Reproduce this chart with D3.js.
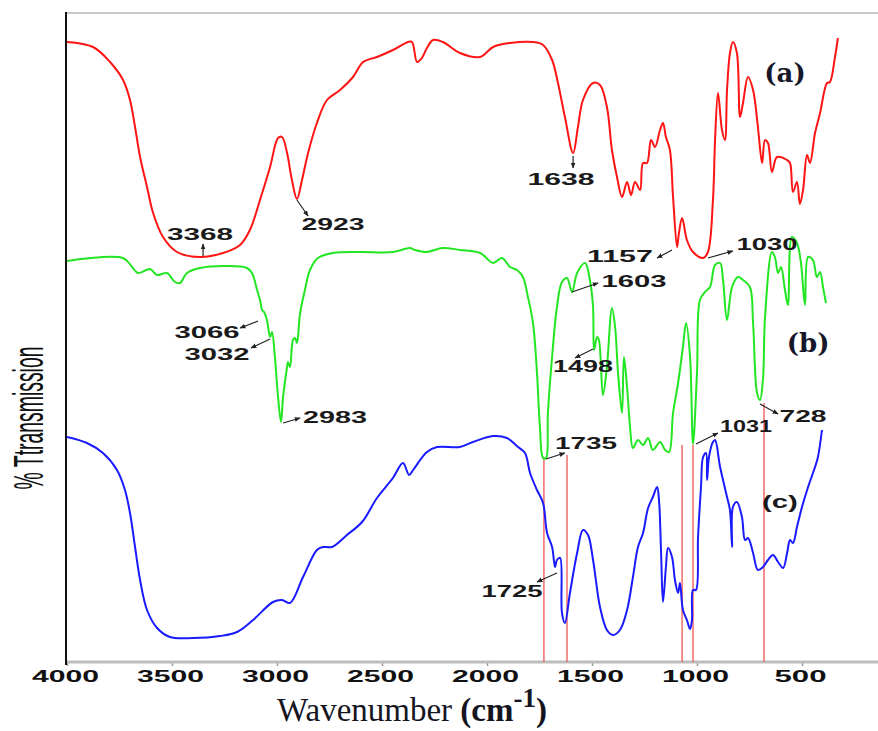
<!DOCTYPE html>
<html>
<head>
<meta charset="utf-8">
<script src="https://cdn.jsdelivr.net/npm/d3@7"></script>
<style>
  body { margin: 0; background: #fff; }
  svg { display: block; }
</style>
</head>
<body>
<div class="chart"></div>
<script>
// spectrum (a) - red
const wnA = [4000, 3876, 3795, 3733, 3700, 3676, 3652, 3619, 3590, 3543, 3476, 3367, 3257, 3176, 3129, 3081, 3033, 2995, 2976, 2952, 2929, 2905, 2881, 2852, 2810, 2762, 2700, 2638, 2590, 2524, 2448, 2376, 2357, 2333, 2310, 2286, 2257, 2210, 2129, 2033, 1971, 1890, 1781, 1733, 1690, 1662, 1629, 1590, 1567, 1543, 1495, 1462, 1429, 1405, 1381, 1357, 1333, 1314, 1295, 1271, 1257, 1238, 1219, 1200, 1176, 1162, 1148, 1129, 1114, 1095, 1086, 1071, 1048, 1019, 971, 948, 924, 914, 900, 881, 867, 857, 843, 829, 810, 795, 781, 757, 733, 710, 690, 676, 662, 643, 619, 571, 557, 543, 524, 510, 495, 476, 462, 438, 414, 381, 367, 343, 329];
const tA = [62.0, 61.5, 60.0, 58.2, 56.2, 53.5, 50.5, 47.5, 44.9, 42.5, 41.0, 40.5, 40.9, 41.7, 43.2, 46.2, 49.5, 52.4, 52.5, 50.9, 48.2, 46.3, 48.2, 50.9, 53.9, 56.2, 57.2, 58.5, 60.0, 60.5, 61.2, 62.0, 62.0, 60.0, 60.4, 61.4, 62.2, 62.0, 60.9, 60.5, 61.5, 61.9, 62.0, 61.7, 60.2, 57.9, 54.5, 50.9, 53.5, 56.2, 57.9, 57.7, 55.5, 51.2, 48.5, 46.5, 48.0, 46.7, 48.0, 47.2, 49.9, 49.9, 52.2, 51.5, 53.2, 53.9, 52.5, 51.2, 46.5, 41.5, 42.9, 44.4, 42.2, 41.0, 40.4, 41.0, 46.2, 52.2, 56.9, 53.2, 52.2, 57.2, 60.9, 62.0, 60.9, 54.5, 55.9, 58.5, 57.2, 53.5, 49.9, 52.2, 51.9, 49.0, 50.5, 50.2, 49.9, 47.0, 48.0, 45.8, 47.2, 50.7, 49.9, 52.9, 54.9, 57.9, 58.0, 60.5, 62.4];

// spectrum (b) - green
const wnB = [4000, 3733, 3690, 3662, 3605, 3571, 3524, 3486, 3462, 3429, 3367, 3238, 3143, 3119, 3095, 3081, 3071, 3062, 3048, 3033, 3024, 3010, 2995, 2981, 2971, 2952, 2948, 2938, 2924, 2914, 2905, 2890, 2867, 2843, 2805, 2733, 2605, 2448, 2367, 2343, 2286, 2210, 2129, 2033, 1971, 1929, 1890, 1857, 1829, 1805, 1781, 1762, 1748, 1733, 1719, 1710, 1690, 1667, 1643, 1619, 1595, 1571, 1533, 1510, 1495, 1490, 1476, 1467, 1448, 1429, 1405, 1390, 1376, 1357, 1348, 1333, 1319, 1305, 1281, 1257, 1233, 1210, 1176, 1152, 1133, 1114, 1090, 1067, 1052, 1033, 1019, 1000, 986, 962, 938, 914, 890, 876, 857, 833, 805, 781, 748, 733, 714, 700, 686, 676, 643, 629, 614, 600, 581, 567, 548, 524, 505, 486, 471, 448, 429, 414, 400, 386];
const tB = [40.1, 40.4, 39.5, 38.9, 39.3, 38.7, 38.9, 38.0, 37.9, 38.9, 39.4, 39.6, 39.4, 38.9, 37.2, 36.2, 35.2, 35.0, 34.2, 32.5, 33.0, 30.5, 26.5, 24.0, 26.5, 29.5, 30.0, 29.5, 32.2, 32.4, 31.9, 34.9, 37.2, 39.2, 40.4, 40.9, 41.0, 41.0, 41.4, 41.2, 41.0, 41.4, 41.2, 40.9, 39.9, 40.4, 39.5, 39.2, 38.5, 36.5, 33.9, 28.9, 23.5, 20.4, 20.4, 24.9, 30.5, 35.5, 38.0, 38.4, 37.0, 38.9, 39.9, 38.2, 35.5, 31.2, 32.5, 32.2, 26.7, 29.5, 35.4, 33.5, 28.9, 24.9, 30.5, 27.5, 23.5, 21.4, 22.2, 21.7, 22.4, 21.2, 22.0, 21.2, 21.0, 24.9, 27.9, 31.5, 33.9, 30.5, 21.8, 28.9, 36.2, 37.0, 37.5, 39.7, 39.9, 38.2, 34.2, 37.5, 38.5, 38.2, 37.5, 33.9, 26.9, 26.2, 28.2, 34.5, 41.0, 40.5, 38.9, 39.5, 37.2, 35.7, 42.5, 41.9, 39.9, 35.7, 40.5, 40.2, 38.5, 39.0, 37.5, 35.9];

// spectrum (c) - blue
const wnC = [4000, 3905, 3829, 3762, 3724, 3700, 3676, 3652, 3619, 3571, 3510, 3400, 3271, 3190, 3114, 3019, 2976, 2938, 2876, 2810, 2781, 2738, 2667, 2595, 2524, 2448, 2400, 2371, 2352, 2286, 2238, 2129, 2067, 1971, 1905, 1852, 1819, 1795, 1762, 1733, 1714, 1690, 1676, 1667, 1652, 1643, 1629, 1605, 1571, 1543, 1519, 1495, 1462, 1429, 1400, 1367, 1333, 1305, 1281, 1257, 1233, 1210, 1190, 1181, 1171, 1162, 1148, 1138, 1119, 1105, 1090, 1081, 1067, 1048, 1033, 1024, 1019, 1005, 995, 981, 971, 957, 952, 943, 924, 914, 890, 857, 843, 833, 829, 810, 786, 771, 757, 733, 710, 686, 662, 638, 614, 590, 571, 557, 543, 524, 500, 471, 438, 424, 405];
const tC = [22.5, 21.9, 20.9, 19.2, 17.2, 14.9, 11.5, 8.2, 5.2, 3.4, 2.5, 2.4, 2.6, 3.0, 4.2, 6.0, 6.2, 5.9, 8.5, 11.2, 11.5, 11.5, 12.7, 14.0, 16.4, 18.4, 19.9, 18.7, 19.2, 21.0, 21.5, 21.5, 22.0, 22.6, 22.4, 21.5, 20.9, 18.9, 17.2, 15.9, 12.9, 11.5, 9.5, 10.2, 10.4, 4.9, 3.9, 6.9, 10.9, 13.2, 12.7, 10.2, 5.5, 3.2, 2.7, 3.2, 5.2, 8.5, 11.5, 12.9, 15.4, 16.5, 17.5, 16.2, 10.9, 6.0, 9.5, 11.4, 10.5, 8.2, 6.9, 7.9, 5.2, 4.2, 3.3, 4.2, 7.2, 7.2, 12.5, 17.5, 20.5, 20.9, 18.2, 20.5, 22.0, 22.2, 19.5, 16.5, 15.2, 11.5, 15.5, 16.0, 14.5, 12.2, 12.4, 10.9, 9.2, 9.5, 10.2, 10.7, 10.0, 9.4, 10.9, 12.2, 11.9, 13.5, 15.5, 17.5, 19.5, 20.5, 23.2];

const xTicks = [4000, 3500, 3000, 2500, 2000, 1500, 1000, 500];

// reference lines (wavenumber, top transmittance)
const refLineWn = [1729, 1619, 1071, 1019, 681];
const refLineTop = [20.5, 20.7, 21.7, 21.7, 25.9];

// peak annotations: label, text anchor [wn, T], leader [from wn, T, to wn, T]
const peakLabels = ['3368', '2923', '1638', '1157', '1030', '3066', '3032', '2983', '1603', '1498', '1735', '1031', '728', '1725'];
const peakText = [[3367, 42.2], [2733, 43.2], [1648, 47.7], [1367, 40.0], [667, 41.2], [3333, 32.4], [3286, 30.2], [2724, 23.9], [1300, 37.5], [1543, 29.0], [1529, 21.3], [767, 23.0], [495, 24.0], [1881, 6.5]];
const peakLeader = [[3352, 40.6, 3352, 41.8], [2905, 46.2, 2852, 44.6], [1590, 50.6, 1590, 49.4], [1119, 41.2, 1190, 40.4], [948, 40.4, 829, 41.1], [3090, 34.1, 3176, 33.4], [3033, 32.3, 3124, 31.4], [2971, 23.9, 2890, 24.4], [1595, 37.0, 1471, 37.9], [1495, 31.3, 1581, 30.4], [1719, 20.3, 1629, 20.9], [1005, 21.8, 900, 22.9], [700, 25.8, 614, 24.8], [1667, 8.9, 1762, 8.0]];
const peakWidth = [66, 63, 67, 66, 61, 65, 65, 64, 65, 60, 62, 52, 47, 61];

const seriesNames = ['(a)', '(b)', '(c)'];
const seriesTagAt = [[581, 58.0], [471, 31.0], [605, 15.4]];

const width = 878;
const height = 731;

const xScale = d3.scaleLinear().domain([4000, 500]).range([67, 802]);
const yScale = d3.scaleLinear().domain([0, 65]).range([662, 12]);

const svg = d3.select('.chart')
  .append('svg')
  .attr('width', width)
  .attr('height', height);

svg.append('defs').append('marker')
  .attr('id', 'arrow')
  .attr('viewBox', '0 0 10 10')
  .attr('refX', 9)
  .attr('refY', 5)
  .attr('markerWidth', 5)
  .attr('markerHeight', 5)
  .attr('orient', 'auto')
  .append('path')
  .attr('d', 'M0,1 L10,5 L0,9 Z')
  .attr('fill', '#222');

// frame: grey top line and x-axis line, black y-axis
svg.append('line')
  .attr('x1', xScale(4000)).attr('x2', width)
  .attr('y1', yScale(65) + 1).attr('y2', yScale(65) + 1)
  .attr('stroke', '#c8c8c8').attr('stroke-width', 2);

const xAxis = d3.axisBottom(xScale)
  .tickValues(xTicks)
  .tickSize(4)
  .tickFormat(d3.format('d'));

const gx = svg.append('g')
  .attr('transform', `translate(0,${yScale(0)})`)
  .call(xAxis);
gx.select('.domain').remove();
gx.selectAll('.tick line').attr('stroke', '#999').attr('stroke-width', 1.5);
gx.selectAll('.tick text')
  .attr('y', 20)
  .attr('dy', 0)
  .attr('x', -2)
  .attr('fill', '#111')
  .style('font-family', '"Liberation Sans", Arial, sans-serif')
  .style('font-weight', 'bold')
  .style('font-size', '16px')
  .attr('textLength', d => (d >= 1000 ? 67 : 52))
  .attr('lengthAdjust', 'spacingAndGlyphs');

svg.append('line')
  .attr('x1', xScale(4000)).attr('x2', width)
  .attr('y1', yScale(0)).attr('y2', yScale(0))
  .attr('stroke', '#bdbdbd').attr('stroke-width', 3);

svg.append('line')
  .attr('x1', xScale(4000) - 1).attr('x2', xScale(4000) - 1)
  .attr('y1', yScale(65)).attr('y2', yScale(0) + 3)
  .attr('stroke', '#111').attr('stroke-width', 2);

// red reference lines
svg.selectAll('.ref')
  .data(refLineWn)
  .enter()
  .append('line')
  .attr('class', 'ref')
  .attr('x1', d => xScale(d)).attr('x2', d => xScale(d))
  .attr('y1', (d, i) => yScale(refLineTop[i]))
  .attr('y2', yScale(0))
  .attr('stroke', '#f26b6b')
  .attr('stroke-width', 1.5);

// spectra
const line = d3.line()
  .x(d => xScale(d[0]))
  .y(d => yScale(d[1]))
  .curve(d3.curveCatmullRom.alpha(0.5));

const spectra = [
  { wn: wnA, t: tA, color: '#ff1414' },
  { wn: wnB, t: tB, color: '#22e622' },
  { wn: wnC, t: tC, color: '#1a1aff' },
];

svg.selectAll('.spectrum')
  .data(spectra)
  .enter()
  .append('path')
  .attr('class', 'spectrum')
  .attr('d', s => line(s.wn.map((w, i) => [w, s.t[i]])))
  .attr('fill', 'none')
  .attr('stroke', s => s.color)
  .attr('stroke-width', 2)
  .attr('stroke-linejoin', 'round');

// peak leaders and labels
svg.selectAll('.leader')
  .data(peakLeader)
  .enter()
  .append('line')
  .attr('class', 'leader')
  .attr('x1', d => xScale(d[0])).attr('y1', d => yScale(d[1]))
  .attr('x2', d => xScale(d[2])).attr('y2', d => yScale(d[3]))
  .attr('stroke', '#222')
  .attr('stroke-width', 1.2)
  .attr('marker-end', 'url(#arrow)');

svg.selectAll('.peak')
  .data(peakLabels)
  .enter()
  .append('text')
  .attr('class', 'peak')
  .attr('x', (d, i) => xScale(peakText[i][0]))
  .attr('y', (d, i) => yScale(peakText[i][1]))
  .attr('text-anchor', 'middle')
  .attr('textLength', (d, i) => peakWidth[i])
  .attr('lengthAdjust', 'spacingAndGlyphs')
  .style('font-family', '"Liberation Sans", Arial, sans-serif')
  .style('font-weight', 'bold')
  .style('font-size', '17px')
  .attr('fill', '#1a1a1a')
  .text(d => d);

// series tags
svg.selectAll('.tag')
  .data(seriesNames)
  .enter()
  .append('text')
  .attr('class', 'tag')
  .attr('x', (d, i) => xScale(seriesTagAt[i][0]))
  .attr('y', (d, i) => yScale(seriesTagAt[i][1]))
  .attr('text-anchor', 'middle')
  .style('font-family', (d, i) => (i < 2 ? '"DejaVu Serif", serif' : '"Liberation Sans", Arial, sans-serif'))
  .style('font-weight', 'bold')
  .style('font-size', (d, i) => (i < 2 ? '26px' : '18px'))
  .attr('textLength', (d, i) => (i < 2 ? null : 36))
  .attr('lengthAdjust', 'spacingAndGlyphs')
  .attr('fill', (d, i) => (i < 2 ? '#17172a' : '#1a1a1a'))
  .text(d => d);

// axis titles
const xTitle = svg.append('text')
  .attr('x', 277)
  .attr('y', 721)
  .style('font-family', '"Liberation Serif", "Times New Roman", serif')
  .style('font-size', '33px')
  .attr('fill', '#15151f');
xTitle.append('tspan').text('Wavenumber ');
xTitle.append('tspan').style('font-weight', 'bold').text('(cm');
xTitle.append('tspan').style('font-weight', 'bold').style('font-size', '27px').attr('dy', -14).text('-1');
xTitle.append('tspan').style('font-weight', 'bold').attr('dy', 14).text(')');

svg.append('text')
  .attr('transform', 'translate(43,418) rotate(-90)')
  .attr('text-anchor', 'middle')
  .attr('textLength', 143)
  .attr('lengthAdjust', 'spacingAndGlyphs')
  .style('font-family', '"Liberation Sans", Arial, sans-serif')
  .style('font-size', '42px')
  .attr('fill', '#111')
  .text('% Ttransmission');
</script>
</body>
</html>
